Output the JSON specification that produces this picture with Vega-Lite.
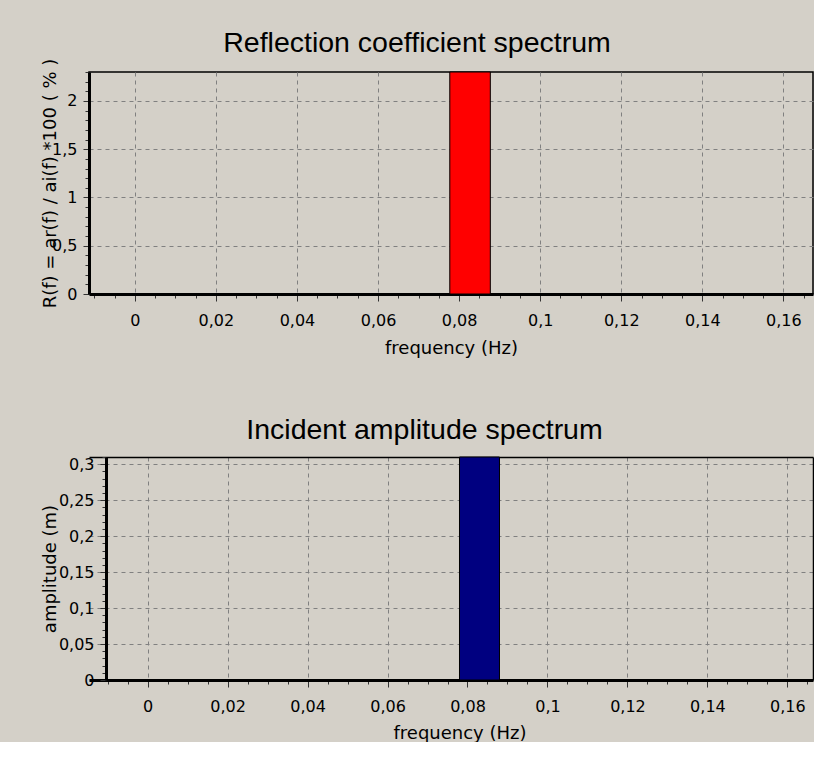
{
  "$schema": "https://vega.github.io/schema/vega-lite/v6.json",
  "background": "#d4d0c8",
  "padding": {"left": 40, "top": 28, "right": 0, "bottom": 0},
  "spacing": 57,
  "config": {
    "view": {"stroke": "black", "strokeWidth": 1.5, "fill": "#d4d0c8"},
    "axis": {
      "labelFont": "DejaVu Sans",
      "labelFontSize": 16,
      "labelColor": "black",
      "titleFont": "DejaVu Sans",
      "titleFontSize": 18,
      "titleFontWeight": "normal",
      "titleColor": "black",
      "domainColor": "black",
      "domainWidth": 3,
      "tickColor": "#333333",
      "tickWidth": 1,
      "gridColor": "#808080",
      "gridDash": [4, 4],
      "gridWidth": 1,
      "labelOverlap": false,
      "labelFlush": false,
      "labelBound": false
    },
    "title": {"font": "Liberation Sans", "fontSize": 28.5, "fontWeight": "normal", "color": "black", "anchor": "middle", "baseline": "alphabetic"}
  },
  "vconcat": [
    {
      "width": 724,
      "height": 222,
      "title": {"text": "Reflection coefficient spectrum", "dx": -34, "offset": -2},
      "data": {"values": [{"f0": 0.0777, "f1": 0.0877, "R": 2.3}]},
      "mark": {"type": "bar", "color": "#ff0000", "stroke": "black", "strokeWidth": 1},
      "encoding": {
        "x": {
          "field": "f0", "type": "quantitative",
          "scale": {"domain": [-0.0113, 0.1673], "nice": false, "zero": false},
          "axis": {
            "title": "frequency (Hz)",
            "titleY": 59, "titleBaseline": "alphabetic",
            "values": [-0.01, -0.005, 0, 0.005, 0.01, 0.015, 0.02, 0.025, 0.03, 0.035, 0.04, 0.045, 0.05, 0.055, 0.06, 0.065, 0.07, 0.075, 0.08, 0.085, 0.09, 0.095, 0.1, 0.105, 0.11, 0.115, 0.12, 0.125, 0.13, 0.135, 0.14, 0.145, 0.15, 0.155, 0.16, 0.165],
            "labelExpr": "abs(datum.value*50 - round(datum.value*50)) < 0.001 ? replace(format(datum.value, '~g'), '.', ',') : ''",
            "tickSize": {"condition": {"test": "abs(datum.value*50 - round(datum.value*50)) < 0.001", "value": 7}, "value": 4},
            "gridOpacity": {"condition": {"test": "abs(datum.value*50 - round(datum.value*50)) < 0.001", "value": 1}, "value": 0},
            "labelPadding": 11
          }
        },
        "x2": {"field": "f1"},
        "y": {
          "field": "R", "type": "quantitative",
          "scale": {"domain": [0, 2.3], "nice": false},
          "axis": {
            "title": "R(f) = ar(f) / ai(f) *100  ( % )",
            "titleX": -34, "titleY": 111, "titleBaseline": "alphabetic", "titleAngle": -90, "titleAlign": "center",
            "values": [0, 0.1, 0.2, 0.3, 0.4, 0.5, 0.6, 0.7, 0.8, 0.9, 1, 1.1, 1.2, 1.3, 1.4, 1.5, 1.6, 1.7, 1.8, 1.9, 2, 2.1, 2.2, 2.3],
            "labelExpr": "abs(datum.value*2 - round(datum.value*2)) < 0.001 ? replace(format(datum.value, '~g'), '.', ',') : ''",
            "tickSize": {"condition": {"test": "abs(datum.value*2 - round(datum.value*2)) < 0.001", "value": 6}, "value": 4},
            "gridOpacity": {"condition": {"test": "abs(datum.value*2 - round(datum.value*2)) < 0.001", "value": 1}, "value": 0},
            "labelPadding": 6
          }
        },
        "y2": {"datum": 0}
      }
    },
    {
      "width": 724,
      "height": 223,
      "view": {"stroke": null},
      "title": {"text": "Incident amplitude spectrum", "dx": -26.5, "offset": 5},
      "data": {"values": [{"f0": 0.078, "f1": 0.088, "a": 0.31}]},
      "resolve": {"axis": {"x": "independent", "y": "independent"}},
      "layer": [
        {
          "mark": {"type": "bar", "color": "#000080", "stroke": "black", "strokeWidth": 1},
          "encoding": {
            "x": {
              "field": "f0", "type": "quantitative",
              "scale": {"domain": [-0.01465, 0.1664], "nice": false, "zero": false},
              "axis": {
                "orient": "bottom",
                "title": "frequency (Hz)",
                "titleX": 370.5, "titleY": 58, "titleBaseline": "alphabetic",
                "values": [-0.01, -0.005, 0, 0.005, 0.01, 0.015, 0.02, 0.025, 0.03, 0.035, 0.04, 0.045, 0.05, 0.055, 0.06, 0.065, 0.07, 0.075, 0.08, 0.085, 0.09, 0.095, 0.1, 0.105, 0.11, 0.115, 0.12, 0.125, 0.13, 0.135, 0.14, 0.145, 0.15, 0.155, 0.16, 0.165],
                "labelExpr": "abs(datum.value*50 - round(datum.value*50)) < 0.001 ? replace(format(datum.value, '~g'), '.', ',') : ''",
                "tickSize": {"condition": {"test": "abs(datum.value*50 - round(datum.value*50)) < 0.001", "value": 7}, "value": 4},
                "gridOpacity": {"condition": {"test": "abs(datum.value*50 - round(datum.value*50)) < 0.001", "value": 1}, "value": 0},
                "labelPadding": 11
              }
            },
            "x2": {"field": "f1"},
            "y": {
              "field": "a", "type": "quantitative",
              "scale": {"domain": [0, 0.31], "nice": false},
              "axis": {
                "orient": "left",
                "offset": -17,
                "title": "amplitude (m)",
                "titleX": -50.5, "titleY": 111.5, "titleBaseline": "alphabetic", "titleAngle": -90, "titleAlign": "center",
                "values": [0, 0.01, 0.02, 0.03, 0.04, 0.05, 0.06, 0.07, 0.08, 0.09, 0.1, 0.11, 0.12, 0.13, 0.14, 0.15, 0.16, 0.17, 0.18, 0.19, 0.2, 0.21, 0.22, 0.23, 0.24, 0.25, 0.26, 0.27, 0.28, 0.29, 0.3, 0.31],
                "labelExpr": "abs(datum.value*20 - round(datum.value*20)) < 0.001 ? replace(format(datum.value, '~g'), '.', ',') : ''",
                "tickSize": {"condition": {"test": "abs(datum.value*20 - round(datum.value*20)) < 0.001", "value": 6}, "value": 4},
                "gridOpacity": {"condition": {"test": "abs(datum.value*20 - round(datum.value*20)) < 0.001", "value": 1}, "value": 0},
                "labelPadding": 6
              }
            },
            "y2": {"datum": 0}
          }
        },
        {
          "mark": {"type": "bar", "opacity": 0},
          "encoding": {
            "x": {
              "field": "f0", "type": "quantitative",
              "axis": {"orient": "top", "title": null, "labels": false, "ticks": false, "grid": false, "domainWidth": 1.5}
            },
            "x2": {"field": "f1"},
            "y": {
              "field": "a", "type": "quantitative",
              "axis": {"orient": "right", "title": null, "labels": false, "ticks": false, "grid": false, "domainWidth": 1.5}
            },
            "y2": {"datum": 0}
          }
        }
      ]
    }
  ]
}
